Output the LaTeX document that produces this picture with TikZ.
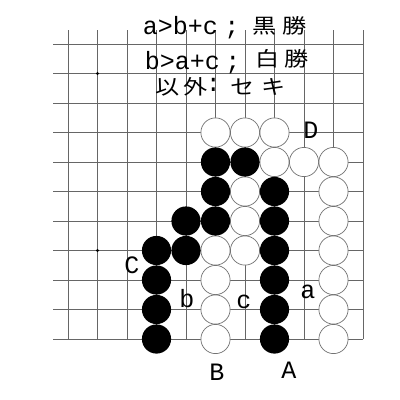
\documentclass[tikz,border=0pt]{standalone}
\usepackage{fontspec}
\usepackage{graphicx}
\setmonofont{Liberation Mono}
\newfontfamily\jp{Noto Sans CJK JP}
\tikzset{
  gridline/.style={black!60, line width=0.8pt},
  wstone/.style={circle, minimum size=29.2pt, inner sep=0pt, fill=white, draw=black!55, line width=0.7pt},
  bstone/.style={circle, minimum size=29.2pt, inner sep=0pt, fill=black},
  lbl/.style={inner sep=0pt, anchor=base, font=\fontsize{25}{30}\ttfamily},
  jpc/.style={inner sep=0pt, anchor=center, font=\fontsize{23}{28}\jp},
}
\newcommand{\jpx}[1]{\scalebox{1.05}[0.88]{#1}}
\begin{document}
\begin{tikzpicture}[x=1pt,y=-1pt]
\useasboundingbox (0,0) rectangle (400,400);
\fill[white] (0,0) rectangle (400,400);
% grid
\foreach \j in {0,...,10} {
  \draw[gridline] (53,{44+29.5*\j}) -- (363,{44+29.5*\j});
}
\foreach \i in {0,...,10} {
  \draw[gridline] ({68+29.5*\i},30) -- ({68+29.5*\i},339);
}
% star points
\fill[black] (97.5,73.5) circle (1.6);
\fill[black] (97.5,250.5) circle (1.6);
% white stones
\foreach \c/\r in {5/3,6/3,7/3,7/4,8/4,9/4,6/5,9/5,6/6,9/6,5/7,6/7,9/7,5/8,9/8,5/9,9/9,5/10,9/10} {
  \node[wstone] (w-\c-\r) at ({68+29.5*\c},{44+29.5*\r}) {};
}
% black stones
\foreach \c/\r in {5/4,6/4,5/5,7/5,4/6,5/6,7/6,3/7,4/7,7/7,3/8,7/8,3/9,7/9,3/10,7/10} {
  \node[bstone] (b-\c-\r) at ({68+29.5*\c},{44+29.5*\r}) {};
}
% labels
\node[lbl] (lD) at (311,138) {D};
\node[lbl] (lC) at (132,273) {C};
\node[lbl] (lb) at (187,307) {b};
\node[lbl] (lc) at (244,308) {c};
\node[lbl] (la) at (308,298) {a};
\node[lbl] (lB) at (217,380) {B};
\node[lbl] (lA) at (289,378) {A};
% heading lines
\node[lbl] (t1a) at (180.5,34) {a>b+c};
\node[lbl] (t1b) at (232,34) {\makebox[5pt]{;}};
\node[jpc] (t1c) at (265,26) {\jpx{黒}};
\node[jpc] (t1d) at (294.5,26) {\jpx{勝}};
\node[lbl] (t2a) at (182.5,69) {b>a+c};
\node[lbl] (t2b) at (233,69) {\makebox[5pt]{;}};
\node[jpc] (t2c) at (267.5,59) {\jpx{白}};
\node[jpc] (t2d) at (296.5,59) {\jpx{勝}};
\node[jpc] (t3a) at (167.5,87) {\jpx{以}};
\node[jpc] (t3b) at (196,87) {\jpx{外}};
\node[lbl] (t3c) at (213.5,91) {\makebox[4pt]{:}};
\node[jpc] (t3d) at (242.5,87) {\jpx{セ}};
\node[jpc] (t3e) at (274,87) {\jpx{キ}};
\end{tikzpicture}
\end{document}
